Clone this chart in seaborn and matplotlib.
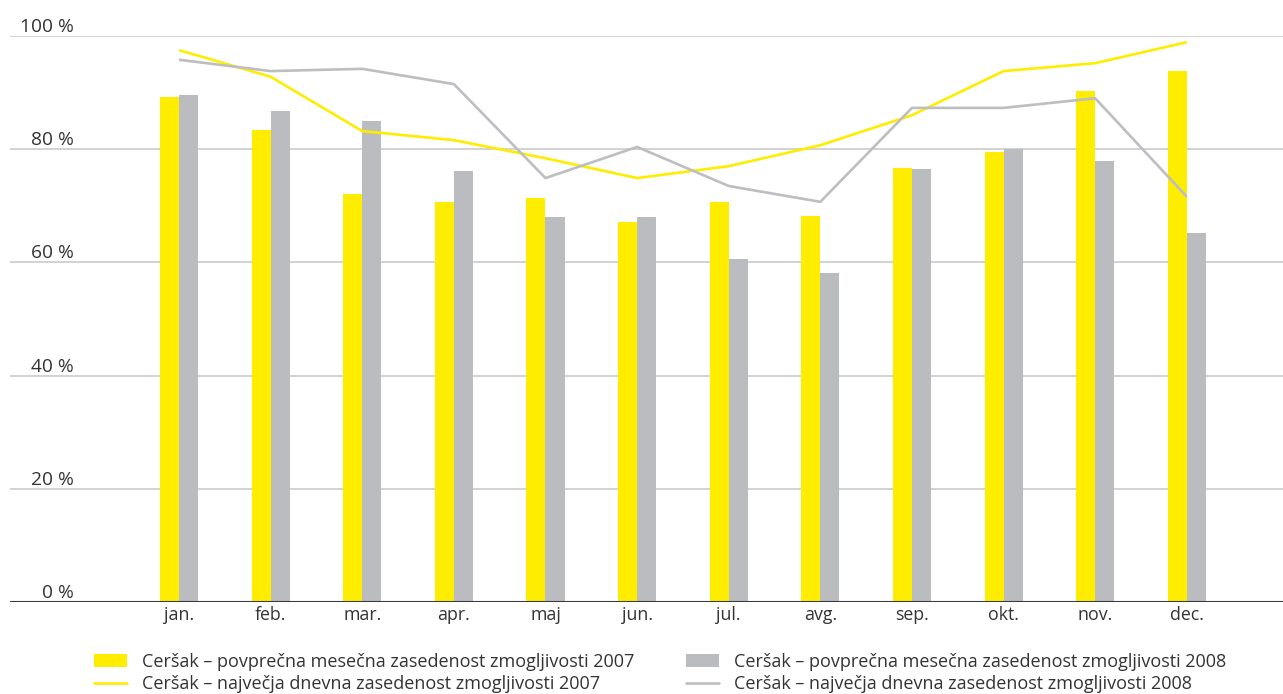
import numpy as np
import pandas as pd
import matplotlib
matplotlib.use("Agg")
import matplotlib.pyplot as plt
import matplotlib.transforms as mtransforms
from matplotlib.patches import Patch
from matplotlib.lines import Line2D
import seaborn as sns

months = ["jan.", "feb.", "mar.", "apr.", "maj", "jun.", "jul.", "avg.", "sep.", "okt.", "nov.", "dec."]
avg_2007 = [89.2, 83.4, 72.1, 70.7, 71.4, 67.1, 70.7, 68.2, 76.7, 79.5, 90.3, 93.8]
avg_2008 = [89.6, 86.7, 85.0, 76.1, 68.0, 68.0, 60.6, 58.1, 76.5, 80.0, 77.9, 65.2]
max_2007 = [97.5, 92.8, 83.2, 81.6, 78.4, 74.9, 77.0, 80.7, 86.0, 93.8, 95.2, 98.9]
max_2008 = [95.8, 93.8, 94.2, 91.5, 74.9, 80.4, 73.5, 70.7, 87.3, 87.3, 89.0, 71.6]
y_ticks = [0, 20, 40, 60, 80, 100]
y_labels = ["0 %", "20 %", "40 %", "60 %", "80 %", "100 %"]
legend_labels = [
    "Ceršak – povprečna mesečna zasedenost zmogljivosti 2007",
    "Ceršak – največja dnevna zasedenost zmogljivosti 2007",
    "Ceršak – povprečna mesečna zasedenost zmogljivosti 2008",
    "Ceršak – največja dnevna zasedenost zmogljivosti 2008",
]

YELLOW = "#FFED00"
GRAY_BAR = "#BBBCBF"
GRAY_LINE = "#BDBEC1"
TEXT = "#333333"

sns.set_theme(style="white")
plt.rcParams["font.family"] = ["Open Sans", "DejaVu Sans"]

bars = pd.DataFrame({
    "month": months * 2,
    "value": avg_2007 + avg_2008,
    "year": ["2007"] * 12 + ["2008"] * 12,
})
lines = pd.DataFrame({
    "x": list(range(12)) * 2,
    "value": max_2007 + max_2008,
    "year": ["2007"] * 12 + ["2008"] * 12,
})

fig = plt.figure(figsize=(12.83, 6.94), dpi=100)
ax = fig.add_axes([10 / 1283, 1 - 602 / 694, 1 - 10 / 1283, (602 - 36) / 694])

for y in y_ticks[1:]:
    ax.axhline(y, color="#C6C6C6", lw=1.1, zorder=0)

sns.barplot(data=bars, x="month", y="value", hue="year", order=months,
            palette={"2007": YELLOW, "2008": GRAY_BAR}, width=0.415, gap=0,
            saturation=1, legend=False, linewidth=0, edgecolor="none",
            ax=ax, zorder=2)
sns.lineplot(data=lines, x="x", y="value", hue="year",
             palette={"2007": YELLOW, "2008": GRAY_LINE}, lw=1.9,
             legend=False, ax=ax, zorder=3)
for l in ax.lines:
    l.set_solid_capstyle("butt")

ax.axhline(0, color="#3a3a3a", lw=1.5, zorder=4)

ax.set_xlim(-1.845, 12.05)
ax.set_ylim(0, 100)
for s in ax.spines.values():
    s.set_visible(False)
ax.set_xlabel("")
ax.set_ylabel("")
ax.set_yticks([])
ax.set_xticks(range(12))
ax.set_xticklabels(months, fontsize=12.8, color=TEXT)
ax.tick_params(axis="x", length=0, pad=3)

trans = mtransforms.blended_transform_factory(fig.transFigure, ax.transData)
for y, lab in zip(y_ticks, y_labels):
    ax.text(74 / 1283, y, lab, transform=trans + mtransforms.ScaledTranslation(0, 0 / 72, fig.dpi_scale_trans),
            ha="right", va="bottom", fontsize=13.8, color=TEXT, clip_on=False)

h_bar07 = Patch(facecolor=YELLOW, edgecolor="none")
h_line07 = Line2D([], [], color=YELLOW, lw=1.9)
h_bar08 = Patch(facecolor=GRAY_BAR, edgecolor="none")
h_line08 = Line2D([], [], color=GRAY_LINE, lw=1.9)

common = dict(frameon=False, fontsize=13.0, handlelength=1.8, handleheight=0.7,
              handletextpad=0.85, labelspacing=0.22, borderpad=0, borderaxespad=0,
              labelcolor=TEXT, loc="upper left")
fig.legend([h_bar07, h_line07], legend_labels[:2],
           bbox_to_anchor=(94 / 1283, 1 - 653 / 694), **common)
fig.legend([h_bar08, h_line08], legend_labels[2:],
           bbox_to_anchor=(686 / 1283, 1 - 653 / 694), **common)

fig.savefig("out.png", dpi=100)
